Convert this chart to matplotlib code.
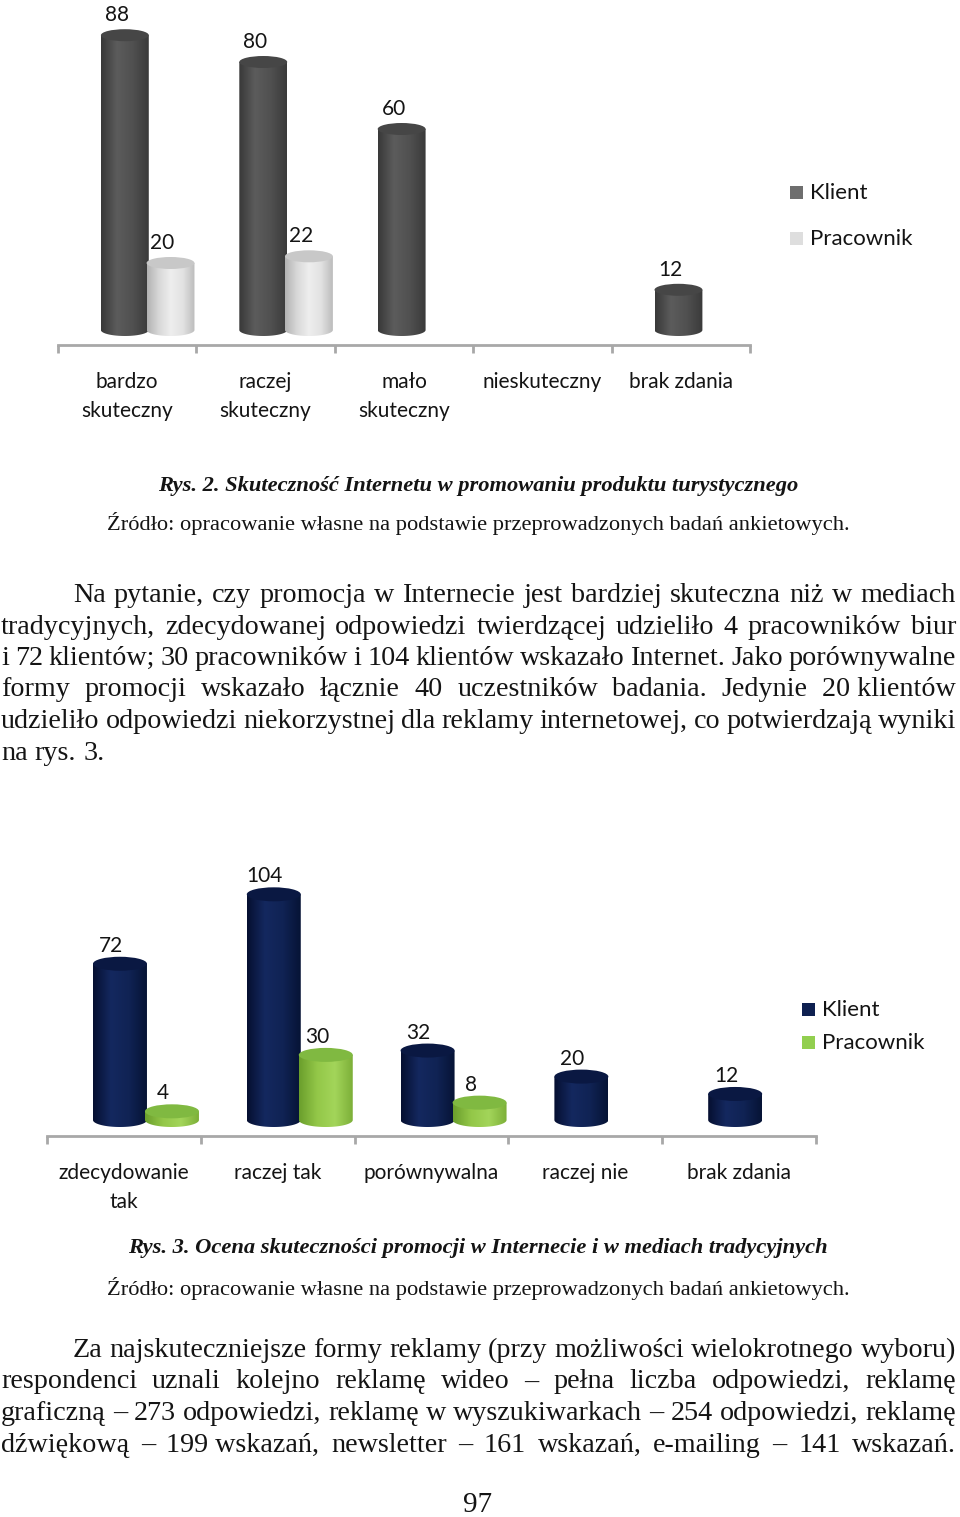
import numpy as np
import matplotlib
matplotlib.use("Agg")
import matplotlib.pyplot as plt
from matplotlib.patches import Ellipse, Polygon, Rectangle
from matplotlib.colors import LinearSegmentedColormap
from matplotlib.ticker import FixedLocator
from matplotlib.font_manager import FontProperties

W, H = 960, 1517

# ---------------- data ----------------
series = ["Klient", "Pracownik"]

categories1 = ["bardzo\nskuteczny", "raczej\nskuteczny", "mało\nskuteczny",
               "nieskuteczny", "brak zdania"]
klient1 = [88, 80, 60, None, 12]
pracownik1 = [20, 22, None, None, None]

categories2 = ["zdecydowanie\ntak", "raczej tak", "porównywalna",
               "raczej nie", "brak zdania"]
klient2 = [72, 104, 32, 20, 12]
pracownik2 = [4, 30, 8, None, None]

caption1 = "Rys. 2. Skuteczność Internetu w promowaniu produktu turystycznego"
caption2 = "Rys. 3. Ocena skuteczności promocji w Internecie i w mediach tradycyjnych"
source_text = "Źródło: opracowanie własne na podstawie przeprowadzonych badań ankietowych."

paragraph1 = [
    "Na pytanie, czy promocja w Internecie jest bardziej skuteczna niż w mediach",
    "tradycyjnych, zdecydowanej odpowiedzi twierdzącej udzieliło 4 pracowników biur",
    "i 72 klientów; 30 pracowników i 104 klientów wskazało Internet. Jako porównywalne",
    "formy promocji wskazało łącznie 40 uczestników badania. Jedynie 20\u00a0klientów",
    "udzieliło odpowiedzi niekorzystnej dla reklamy internetowej, co potwierdzają wyniki",
    "na rys. 3.",
]
paragraph2 = [
    "Za najskuteczniejsze formy reklamy (przy możliwości wielokrotnego wyboru)",
    "respondenci uznali kolejno reklamę wideo – pełna liczba odpowiedzi, reklamę",
    "graficzną – 273 odpowiedzi, reklamę w wyszukiwarkach – 254 odpowiedzi, reklamę",
    "dźwiękową – 199\u00a0wskazań, newsletter – 161 wskazań, e-mailing – 141 wskazań.",
]
page_number = "97"

# ---------------- style ----------------
SERIF = "Liberation Serif"
SANS = "Lato"
TXT = "#141414"
AXIS_GREY = "#a8a8a8"
CHART_FS = 15
LEGEND_FS = 16

fig = plt.figure(figsize=(W / 100, H / 100), dpi=100)
fig.patch.set_facecolor("white")
renderer = fig.canvas.get_renderer()


def fx(x):
    return x / W


def fy(y):
    return 1 - y / H


def px_axes(l, t, r, b):
    return fig.add_axes([l / W, 1 - b / H, (r - l) / W, (b - t) / H])


def cmap_of(stops):
    return LinearSegmentedColormap.from_list("c", stops)


def cylinder(ax, xc, w, v, eh, cmap, topc, z):
    x0, x1 = xc - w / 2, xc + w / 2
    th = np.linspace(np.pi, 2 * np.pi, 80)
    bx = xc + w / 2 * np.cos(th)
    by = eh / 2 * np.sin(th)
    verts = [(x0, v)] + list(zip(bx, by)) + [(x1, v)]
    body = Polygon(verts, closed=True, fc="none", ec="none")
    ax.add_patch(body)
    grad = np.linspace(0, 1, 256).reshape(1, -1)
    im = ax.imshow(grad, cmap=cmap, extent=[x0, x1, -eh / 2, v],
                   aspect="auto", origin="lower", zorder=z,
                   interpolation="bilinear")
    im.set_clip_path(body)
    ax.add_patch(Ellipse((xc, v), w, eh, fc=topc, ec="none", zorder=z + 0.1))


def chart(ax, cats, kl, pr, ylim, ppu, eh_px, koff, poff, bw,
          kstyle, pstyle, lab_base_px, lab_dx):
    n = len(cats)
    eh = eh_px / ppu
    for vals, off, (cm, topc), z in ((kl, koff, kstyle, 2), (pr, poff, pstyle, 3)):
        for i, v in enumerate(vals):
            if v is None:
                continue
            xc = i + off + bw / 2
            cylinder(ax, xc, bw, v, eh, cm, topc, z)
            ax.text(xc + lab_dx, v + lab_base_px / ppu, str(v), ha="center",
                    va="baseline", fontsize=CHART_FS, family=SANS, color=TXT,
                    zorder=5)
    ax.set_xlim(0, n)
    ax.set_ylim(*ylim)
    ax.patch.set_alpha(0)
    for s in ("top", "left", "right"):
        ax.spines[s].set_visible(False)
    ax.spines["bottom"].set_color(AXIS_GREY)
    ax.spines["bottom"].set_linewidth(2)
    ax.set_yticks([])
    ax.set_xticks(np.arange(n) + 0.5)
    ax.set_xticklabels(cats, fontsize=CHART_FS, family=SANS, color=TXT)
    for lbl in ax.get_xticklabels():
        lbl.set_linespacing(1.58)
    ax.xaxis.set_minor_locator(FixedLocator(np.arange(n + 1)))
    ax.tick_params(axis="x", which="major", length=0, pad=19.5)
    ax.tick_params(axis="x", which="minor", length=6, width=2,
                   color=AXIS_GREY, direction="out")


def legend(x_sq, rows, colors):
    for (yb, name), c in zip(rows, colors):
        fig.add_artist(Rectangle((fx(x_sq), fy(yb)), 13 / W, 13 / H,
                                 transform=fig.transFigure, fc=c, ec="none"))
        fig.text(fx(x_sq + 20), fy(yb), name, ha="left", va="baseline",
                 fontsize=LEGEND_FS, family=SANS, color=TXT)


# ---------------- chart 1 ----------------
ppu1 = 3.35
ax1 = px_axes(58, 0, 750, 345)
chart(ax1, categories1, klient1, pracownik1,
      ylim=(-15 / ppu1, 330 / ppu1), ppu=ppu1, eh_px=12,
      koff=0.31, poff=0.64, bw=0.346,
      kstyle=(cmap_of(["#383838", "#5c5c5c", "#505050", "#3a3a3a"]), "#464646"),
      pstyle=(cmap_of(["#b2b2b2", "#d8d8d8", "#eeeeee", "#e2e2e2", "#bcbcbc"]), "#c8c8c8"),
      lab_base_px=14, lab_dx=-0.058)
legend(790, [(199, series[0]), (245, series[1])], ["#6e6e6e", "#dedede"])

# ---------------- chart 2 ----------------
ppu2 = 2.17
ax2 = px_axes(47, 850, 816, 1136)
chart(ax2, categories2, klient2, pracownik2,
      ylim=(-16 / ppu2, 270 / ppu2), ppu=ppu2, eh_px=14,
      koff=0.299, poff=0.637, bw=0.351,
      kstyle=(cmap_of(["#050f30", "#14285f", "#102354", "#061335"]), "#0a1842"),
      pstyle=(cmap_of(["#6a9e2c", "#93c748", "#a3d55a", "#7caf38"]), "#80b941"),
      lab_base_px=12, lab_dx=-0.058)
legend(802, [(1016, series[0]), (1049, series[1])], ["#0e2050", "#92cf4f"])


# ---------------- text ----------------
def tw(s, size, **kw):
    prop = FontProperties(family=SERIF, size=size, **kw)
    return renderer.get_text_width_height_descent(s, prop, ismath=False)[0]


LEFT, RIGHT, INDENT = 1, 956, 72


def fit_size(paras, start):
    s = start
    while s > 10:
        ok = True
        for lines, jl in paras:
            use = lines if jl else lines[:-1]
            for i, line in enumerate(use):
                words = line.split(" ")
                x0 = LEFT + (INDENT if i == 0 else 0)
                need = sum(tw(w, s) for w in words) + (len(words) - 1) * 0.2 * s * 100 / 72
                if need > RIGHT - x0:
                    ok = False
                    break
            if not ok:
                break
        if ok:
            return s
        s -= 0.25
    return s


def paragraph(lines, baselines, size, justify_last):
    space = tw("a a", size) - tw("aa", size)
    for i, (line, yb) in enumerate(zip(lines, baselines)):
        words = line.split(" ")
        x0 = LEFT + (INDENT if i == 0 else 0)
        widths = [tw(w, size) for w in words]
        last = i == len(lines) - 1
        if (last and not justify_last) or len(words) == 1:
            gap = space
        else:
            gap = (RIGHT - x0 - sum(widths)) / (len(words) - 1)
        x = x0
        for w, wd in zip(words, widths):
            fig.text(fx(x), fy(yb), w, ha="left", va="baseline", fontsize=size,
                     family=SERIF, color=TXT)
            x += wd + gap


psize = fit_size([(paragraph1, False), (paragraph2, True)], 20.5)
CAP_FS = 16.2

fig.text(fx(478), fy(491), caption1, ha="center", va="baseline", fontsize=CAP_FS,
         family=SERIF, style="italic", weight="bold", color=TXT)
fig.text(fx(478), fy(530), source_text, ha="center", va="baseline", fontsize=CAP_FS,
         family=SERIF, color=TXT)
paragraph(paragraph1, [602 + 31.5 * k for k in range(len(paragraph1))], psize, False)

fig.text(fx(478), fy(1253), caption2, ha="center", va="baseline", fontsize=CAP_FS,
         family=SERIF, style="italic", weight="bold", color=TXT)
fig.text(fx(478), fy(1295), source_text, ha="center", va="baseline", fontsize=CAP_FS,
         family=SERIF, color=TXT)
paragraph(paragraph2, [1357 + 31.5 * k for k in range(len(paragraph2))], psize, True)

fig.text(fx(478), fy(1512), page_number, ha="center", va="baseline",
         fontsize=21, family=SERIF, color=TXT)

fig.savefig("out.png", dpi=100, facecolor="white")
